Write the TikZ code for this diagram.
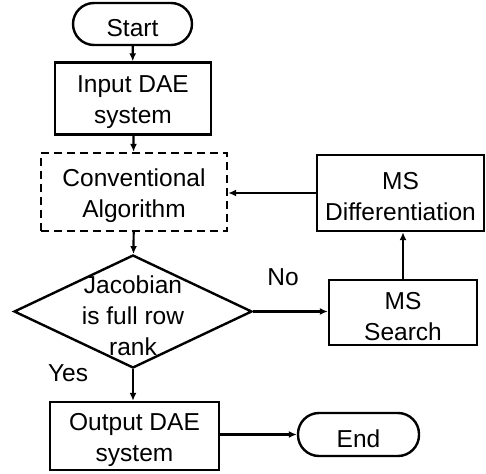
\documentclass[tikz,border=0pt]{standalone}
\usepackage{fontspec}
\setmainfont{Liberation Sans}
\usetikzlibrary{shapes.geometric,arrows.meta}
\begin{document}
\begin{tikzpicture}[x=1pt,y=-1pt,
  every node/.style={font=\fontsize{24.5}{31}\selectfont, align=center, inner sep=0pt},
  box/.style={draw, line width=2.4pt, rectangle},
  term/.style={draw, line width=2.4pt, rectangle, rounded corners=21pt},
  dbox/.style={draw, line width=2.4pt, rectangle, dash pattern=on 8pt off 5pt},
  dia/.style={draw, line width=2.4pt, diamond, minimum width=238pt, minimum height=113pt},
  T/.style={label={[yshift=-4pt]center:{#1}}},
  arr/.style={line width=2.2pt, -{Latex[length=8pt,width=7pt]}},
  lbl/.style={}]
\useasboundingbox (0,0) rectangle (486,473);
\node[term, minimum width=119pt, minimum height=42pt, T={Start}] (start) at (132.5,24) {};
\node[box, minimum width=156pt, minimum height=72pt, T={Input DAE\\system}] (input) at (133,98.5) {};
\node[dbox, minimum width=186pt, minimum height=78pt, T={Conventional\\Algorithm}] (conv) at (134,192) {};
\node[dia] (jac) at (133,311.5) {};
\node at (133,316) {Jacobian\\is full row\\rank};
\node[box, minimum width=169pt, minimum height=68pt, T={Output DAE\\system}] (output) at (134.5,436) {};
\node[term, minimum width=121pt, minimum height=43pt, T={End}] (end) at (358.5,434.5) {};
\node[box, minimum width=167pt, minimum height=76pt, T={MS\\Differentiation}] (diff) at (400.5,193) {};
\node[box, minimum width=148pt, minimum height=65pt, T={MS\\Search}] (search) at (403,312.5) {};
\node[lbl] (yes) at (68,373) {Yes};
\node[lbl] (no) at (283,277) {No};
\draw[arr] (start) -- (input);
\draw[arr] (input) -- (conv);
\draw[arr] (conv) -- (jac);
\draw[arr] (jac) -- (jac.south |- output.north);
\draw[arr] (jac.east) -- (jac.east -| search.west);
\draw[arr] (search.north) -- (search.north |- diff.south);
\draw[arr] (diff.west) -- (diff.west -| conv.east);
\draw[arr] (output.east |- end.west) -- (end.west);
\end{tikzpicture}
\end{document}
